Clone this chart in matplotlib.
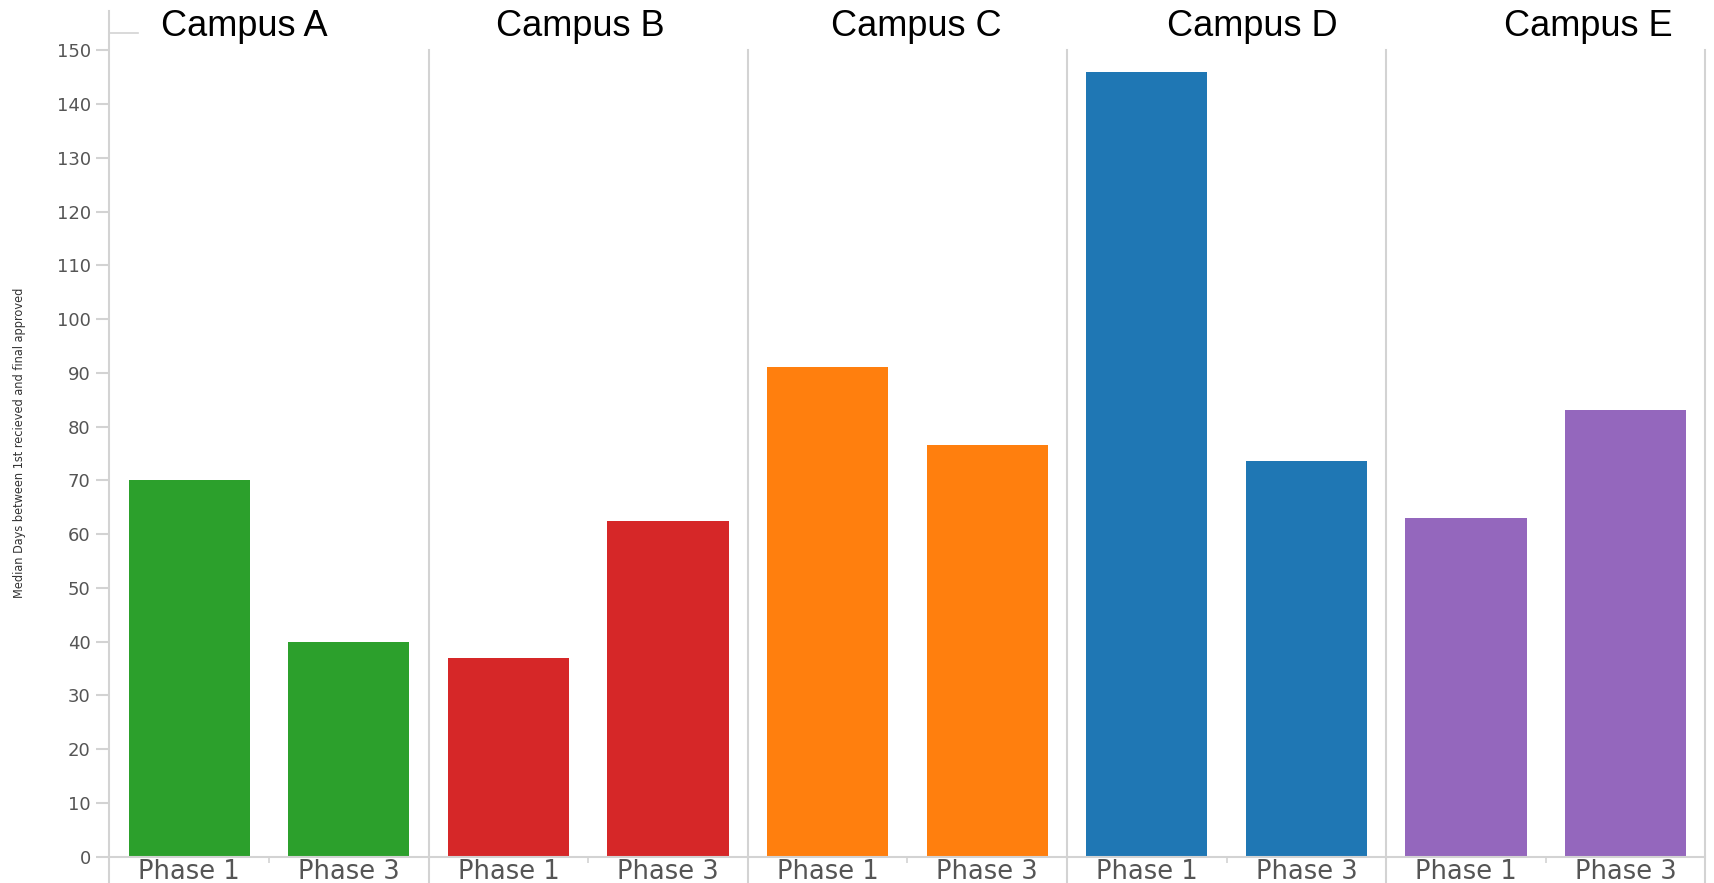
import matplotlib
matplotlib.use("Agg")
import matplotlib.pyplot as plt
from matplotlib.lines import Line2D

# ---- data ----
campuses = ["Campus A", "Campus B", "Campus C", "Campus D", "Campus E"]
phases = ["Phase 1", "Phase 3"]
phase1_days = [70, 37, 91, 146, 63]
phase3_days = [40, 62.5, 76.5, 73.5, 83]
campus_colors = ["#2ca02c", "#d62728", "#ff7f0e", "#1f77b4", "#9467bd"]
y_ticks = list(range(0, 151, 10))
y_label = "Median Days between 1st recieved and final approved"

# ---- layout (pixels) ----
W, H = 1715, 883
fig = plt.figure(figsize=(W / 100, H / 100), dpi=100)
left0, panel_w = 109.4, 319.2
y_base, y_top = 856.5, 50.3
grid_c = "#d3d3d3"
label_c = "#555555"

for i, name in enumerate(campuses):
    ax = fig.add_axes([(left0 + i * panel_w) / W, (H - y_base) / H,
                       panel_w / W, (y_base - y_top) / H])
    vals = [phase1_days[i], phase3_days[i]]
    ax.bar(range(len(phases)), vals, width=0.76, color=campus_colors[i])
    ax.set_xlim(-0.5, 1.5)
    ax.set_ylim(0, 150)
    ax.spines["top"].set_visible(False)
    ax.spines["right"].set_visible(i == len(campuses) - 1)
    for s in ["left", "right", "bottom"]:
        ax.spines[s].set_color(grid_c)
        ax.spines[s].set_linewidth(1.5)
    ax.spines["left"].set_bounds(-5, 150)
    ax.spines["right"].set_bounds(-5, 150)
    ax.set_xticks(range(len(phases)))
    ax.set_xticklabels(phases, family="DejaVu Sans", fontsize=18.5, color=label_c)
    ax.tick_params(axis="x", which="major", length=0, pad=2)
    ax.set_xticks([0.5], minor=True)
    ax.tick_params(axis="x", which="minor", length=4, color=grid_c, width=1.2)
    if i == 0:
        ax.set_yticks(y_ticks)
        ax.set_yticklabels([str(t) for t in y_ticks], family="DejaVu Sans",
                           fontsize=13, color=label_c)
        ax.tick_params(axis="y", length=9.5, width=1.5, color=grid_c, pad=4)
        ax.spines["left"].set_bounds(-5, 150 + (y_top - 11) / ((y_base - y_top) / 150))
    else:
        ax.set_yticks([])
    # title
    fig.text((244.5 + i * 336) / W, (H - 36) / H, name, ha="center", va="baseline",
             family="Liberation Sans", fontsize=26, color="black")

# little header stub at top left
fig.add_artist(Line2D([109.4 / W, 138 / W], [(H - 33) / H, (H - 33) / H],
                      color=grid_c, lw=1.2))

fig.text(20 / W, (H - 443) / H, y_label, rotation=90, ha="center", va="center",
         family="DejaVu Sans", fontstretch="condensed", fontsize=9.1, color="#333333")

fig.savefig("out.png", dpi=100)
